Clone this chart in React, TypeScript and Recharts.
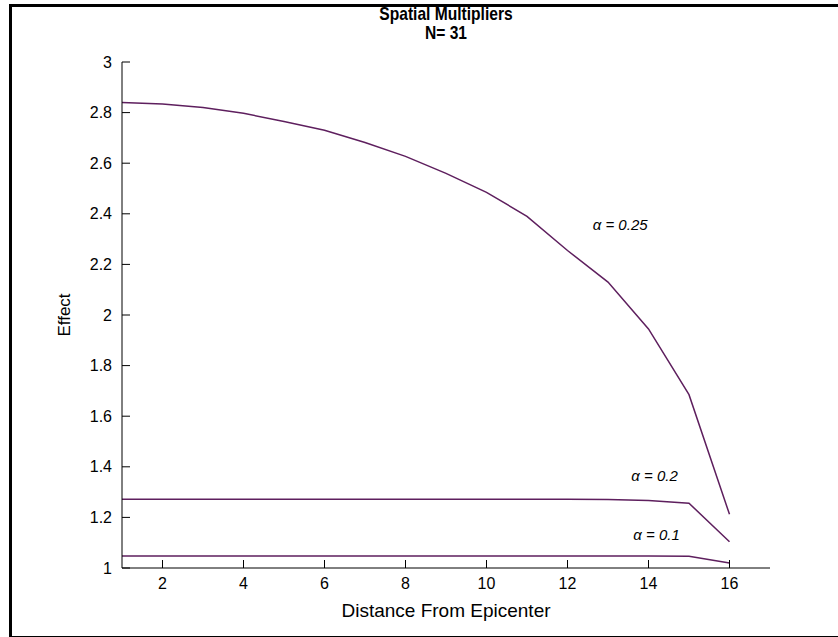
import React from "react"
import { LineChart, Line, XAxis, YAxis, Label, ReferenceDot } from "recharts"

// distance from epicenter
const distance = [1, 2, 3, 4, 5, 6, 7, 8, 9, 10, 11, 12, 13, 14, 15, 16]

// effect for each alpha
const alpha025 = [2.84, 2.834, 2.82, 2.797, 2.765, 2.73, 2.682, 2.627, 2.56, 2.485, 2.39, 2.255, 2.13, 1.945, 1.685, 1.212]
const alpha02 = [1.272, 1.272, 1.272, 1.272, 1.272, 1.272, 1.272, 1.272, 1.272, 1.272, 1.272, 1.272, 1.271, 1.267, 1.256, 1.104]
const alpha01 = [1.047, 1.047, 1.047, 1.047, 1.047, 1.047, 1.047, 1.047, 1.047, 1.047, 1.047, 1.047, 1.047, 1.047, 1.046, 1.02]

const xTicks = [2, 4, 6, 8, 10, 12, 14, 16]
const yTicks = [1, 1.2, 1.4, 1.6, 1.8, 2, 2.2, 2.4, 2.6, 2.8, 3]

const labels = [
  { text: "α = 0.25", x: 13.3, y: 2.35 },
  { text: "α = 0.2", x: 14.15, y: 1.36 },
  { text: "α = 0.1", x: 14.2, y: 1.128 },
]

const data = distance.map((d, i) => ({
  d,
  a025: alpha025[i],
  a02: alpha02[i],
  a01: alpha01[i],
}))

const lineColor = "#5e1f5e"
const font = "'Liberation Sans', Arial, sans-serif"

const tickStyle = { fontSize: 16, fill: "#000", fontFamily: font }

const AlphaLabel = (props: any) => {
  const { cx, cy, text } = props
  return (
    <text x={cx} y={cy} textAnchor="middle" fontSize={15} fontStyle="italic" fontFamily={font} fill="#000" dominantBaseline="middle">
      {text}
    </text>
  )
}

export default function App() {
  return (
    <div style={{ position: "absolute", left: 0, top: 0, width: 838, height: 637, overflow: "hidden", background: "#fff" }}>
      <div style={{ position: "absolute", left: 9, top: 4, width: 900, height: 629, border: "3px solid #000", boxSizing: "content-box" }} />
      <div
        style={{
          position: "absolute",
          left: 0,
          top: 4,
          width: 892,
          textAlign: "center",
          fontFamily: font,
          fontWeight: "bold",
          fontSize: 19,
          lineHeight: "19px",
          transform: "scaleX(0.82)",
          transformOrigin: "446px 0",
        }}
      >
        <div>Spatial Multipliers</div>
        <div>N= 31</div>
      </div>
      <div style={{ position: "absolute", left: 0, top: 0 }}>
        <LineChart width={838} height={637} data={data} margin={{ top: 62, right: 68, left: 62, bottom: 39 }}>
          <XAxis
            dataKey="d"
            type="number"
            domain={[1, 17]}
            ticks={xTicks}
            tick={tickStyle}
            tickSize={-8}
            tickMargin={18}
            height={30}
            stroke="#000"
            allowDataOverflow
          >
            <Label value="Distance From Epicenter" position="bottom" offset={6} style={{ fontSize: 19, fill: "#000", fontFamily: font }} />
          </XAxis>
          <YAxis
            type="number"
            domain={[1, 3]}
            ticks={yTicks}
            tick={tickStyle}
            tickSize={-8}
            tickMargin={18}
            width={60}
            stroke="#000"
            allowDataOverflow
          >
            <Label value="Effect" angle={-90} position="insideLeft" offset={2} style={{ fontSize: 17, fill: "#000", fontFamily: font, textAnchor: "middle" }} />
          </YAxis>
          <Line dataKey="a025" stroke={lineColor} strokeWidth={1.5} dot={false} isAnimationActive={false} type="linear" />
          <Line dataKey="a02" stroke={lineColor} strokeWidth={1.5} dot={false} isAnimationActive={false} type="linear" />
          <Line dataKey="a01" stroke={lineColor} strokeWidth={1.5} dot={false} isAnimationActive={false} type="linear" />
          {labels.map((l) => (
            <ReferenceDot key={l.text} x={l.x} y={l.y} r={0} shape={(p: any) => <AlphaLabel {...p} text={l.text} />} />
          ))}
        </LineChart>
      </div>
    </div>
  )
}
